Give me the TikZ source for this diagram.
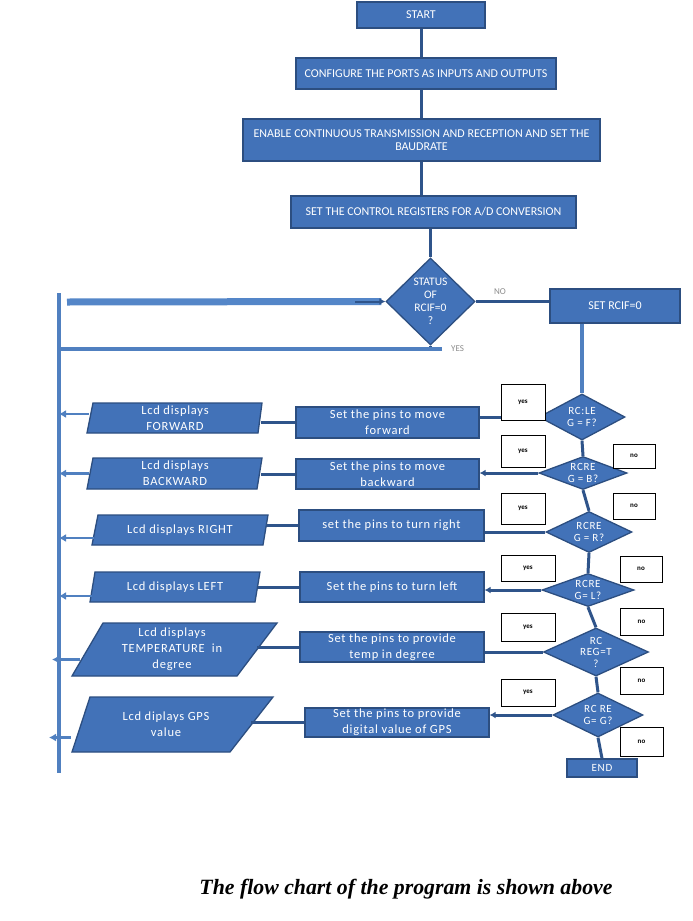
\documentclass[tikz,border=0pt]{standalone}
\usepackage{fontspec}
\setmainfont{Liberation Serif}
\newfontfamily\boxfont{Carlito}
\newfontfamily\spfont[LetterSpace=6]{Carlito}
\usetikzlibrary{shapes.geometric,arrows.meta}
\definecolor{boxfill}{RGB}{66,114,184}
\definecolor{boxline}{RGB}{44,78,128}
\definecolor{linedark}{RGB}{47,84,138}
\definecolor{bandblue}{RGB}{84,134,200}
\definecolor{trunkblue}{RGB}{80,128,192}
\definecolor{labelgray}{RGB}{140,140,140}
\tikzset{
  tbox/.style={rectangle, fill=boxfill, draw=boxline, line width=1.3pt, text=white, inner sep=0pt, align=center,
    font=\boxfont\fontsize{12}{13}\selectfont},
  abox/.style={rectangle, fill=boxfill, draw=boxline, line width=1.3pt, text=white, inner sep=0pt, align=center,
    font=\spfont\fontsize{12.5}{16}\selectfont},
  lcdshape/.style={fill=boxfill, draw=boxline, line width=1.3pt},
  lcdtext/.style={rectangle, text=white, inner sep=0pt, align=center, font=\spfont\fontsize{12.5}{16}\selectfont},
  dec/.style={diamond, fill=boxfill, draw=boxline, line width=1.3pt, text=white, inner sep=0pt, align=center,
    font=\spfont\fontsize{11}{12.5}\selectfont},
  yn/.style={rectangle, fill=white, draw=black, line width=0.9pt, inner sep=0pt,
    font=\boxfont\bfseries\fontsize{7}{8}\selectfont},
  conn/.style={draw=linedark, line width=3pt},
  trunk/.style={draw=trunkblue, line width=4pt},
  lcdarrow/.style={draw=trunkblue, line width=2.5pt, -{Latex[length=7pt,width=8pt]}},
  lbl/.style={text=labelgray, font=\boxfont\fontsize{9}{10}\selectfont, inner sep=0pt}
}
\begin{document}
\begin{tikzpicture}[x=1pt,y=-1pt]
\useasboundingbox[fill=white] (0,0) rectangle (693,921);

% top chain
\node[tbox, minimum width=128, minimum height=26] (start) at (421,15) {START};
\node[tbox, minimum width=260, minimum height=31] (conf) at (426,73.5) {CONFIGURE THE PORTS AS INPUTS AND OUTPUTS};
\node[tbox, minimum width=357, minimum height=42] (enable) at (421.5,140) {ENABLE CONTINUOUS TRANSMISSION AND RECEPTION AND SET THE\\BAUDRATE};
\node[tbox, minimum width=285, minimum height=32] (ctrl) at (433.5,212) {SET THE CONTROL REGISTERS FOR A/D CONVERSION};
\node[dec, aspect=1, minimum width=89, minimum height=87, font=\boxfont\fontsize{11.5}{13}\selectfont] (status) at (430.5,301.5) {STATUS\\OF\\RCIF=0\\?};
\node[tbox, minimum width=130, minimum height=34] (setrcif) at (615,306) {SET RCIF=0};

% decisions
\node[dec, aspect=1.87, minimum width=86, minimum height=46] (d1) at (582,417) {RC:LE\\G = F?};
\node[dec, aspect=2.75, minimum width=88, minimum height=33] (d2) at (583,473) {RCRE\\G = B?};
\node[dec, aspect=2.1, minimum width=86, minimum height=41] (d3) at (589,532) {RCRE\\G = R?};
\node[dec, aspect=2.8, minimum width=92, minimum height=33] (d4) at (588,590) {RCRE\\G= L?};
\node[dec, aspect=2.19, minimum width=105, minimum height=48, font=\spfont\fontsize{11}{11.5}\selectfont] (d5) at (596,652) {RC\\REG=T\\?};
\node[dec, aspect=2.05, minimum width=90, minimum height=44] (d6) at (598,715) {RC RE\\G= G?};
\node[abox, minimum width=70, minimum height=18, font=\spfont\fontsize{11}{12}\selectfont] (end) at (602,768) {END};

% action boxes
\node[abox, minimum width=183, minimum height=31] (afwd) at (387.5,422.5) {Set the pins to move\\forward};
\node[abox, minimum width=183, minimum height=30] (abwd) at (387.5,474) {Set the pins to move\\backward};
\node[abox, minimum width=185, minimum height=31] (aright) at (391.5,525.5) {set the pins to turn right};
\node[abox, minimum width=184, minimum height=30] (aleft) at (392,587) {Set the pins to turn left};
\node[abox, minimum width=184, minimum height=30] (atemp) at (392,647) {Set the pins to provide\\temp in degree};
\node[abox, minimum width=184, minimum height=29] (agps) at (397,722.5) {Set the pins to provide\\digital value of GPS};

% lcd boxes
\filldraw[lcdshape] (93,403) -- (262,403) -- (258,433) -- (87,433) -- cycle;
\node[lcdtext, minimum width=172, minimum height=30] (lfwd) at (175,418) {Lcd displays\\FORWARD};
\filldraw[lcdshape] (93,458) -- (262,458) -- (257,489) -- (87,489) -- cycle;
\node[lcdtext, minimum width=172, minimum height=31] (lbwd) at (175,473.5) {Lcd displays\\BACKWARD};
\filldraw[lcdshape] (98,515) -- (268,515) -- (263,545) -- (92,545) -- cycle;
\node[lcdtext, minimum width=171, minimum height=30] (lright) at (180,530) {Lcd displays RIGHT};
\filldraw[lcdshape] (95,572) -- (260,572) -- (255,602) -- (90,602) -- cycle;
\node[lcdtext, minimum width=165, minimum height=30] (lleft) at (175,587) {Lcd displays LEFT};
\filldraw[lcdshape] (103,623) -- (277,623) -- (237,676) -- (72,676) -- cycle;
\node[lcdtext, minimum width=169, minimum height=53] (ltemp) at (172,649.5) {Lcd displays\\TEMPERATURE~ in\\degree};
\filldraw[lcdshape] (90,697) -- (273,697) -- (230,752) -- (72,752) -- cycle;
\node[lcdtext, minimum width=170, minimum height=55] (lgps) at (166,724.5) {Lcd diplays GPS\\value};

% left trunk
\coordinate (ltop) at (59,293);
\coordinate (lbot) at (59,773);
\coordinate (bandstart) at (67,302);
\coordinate (yesend) at (442,349);
\coordinate (yesleft) at (59,349);

% connectors in top chain
\draw[conn] (start.south) -- (start.south |- conf.north);
\draw[conn] (conf.south -| start.south) -- (start.south |- enable.north);
\draw[conn] (enable.south -| start.south) -- (start.south |- ctrl.north);
\draw[conn] (status.north |- ctrl.south) -- (status.north);
\draw[conn] (status.east) -- (status.east -| setrcif.west);
\draw[trunk, line width=3.5pt] (setrcif.south -| d1.north) -- (d1.north);
\draw[draw=bandblue, line width=7pt] (bandstart) -- ([xshift=-4pt]status.west);
\draw[conn, line width=2pt, -{Latex[length=6pt,width=7pt]}] ([xshift=-30pt]status.west) -- (status.west);
\draw[conn] (status.south) -- (status.south |- yesend);
\draw[draw=trunkblue, line width=3.5pt] (yesend) -- (yesleft);
\draw[trunk] (ltop) -- (lbot);

% decision chain
\draw[conn] (d1.south) -- (d2.north);
\draw[conn] (d2.south) -- (d3.north);
\draw[conn] (d3.south) -- (d4.north);
\draw[conn] (d4.south) -- (d5.north);
\draw[conn] (d5.south) -- (d6.north);
\draw[conn] (d6.south) -- (end.north);

% decision to action
\draw[conn] (d1.west) -- (d1.west -| afwd.east);
\draw[conn, -{Latex[length=6pt,width=7pt]}] (d2.west) -- (d2.west -| abwd.east);
\draw[conn] (d3.west) -- (d3.west -| aright.east);
\draw[conn, -{Latex[length=6pt,width=7pt]}] (d4.west) -- (d4.west -| aleft.east);
\draw[conn] (d5.west) -- (d5.west -| atemp.east);
\draw[conn, -{Latex[length=6pt,width=7pt]}] (d6.west) -- (d6.west -| agps.east);

% action to lcd
\draw[conn] (afwd.west) -- (afwd.west -| lfwd.east);
\draw[conn] (abwd.west) -- (abwd.west -| lbwd.east);
\draw[conn] (aright.west) -- (aright.west -| lright.east);
\draw[conn] (aleft.west) -- (aleft.west -| lleft.east);
\draw[conn] (atemp.west) -- (atemp.west -| ltemp.east);
\draw[conn] (agps.west) -- (agps.west -| lgps.east);

% lcd to trunk
\draw[lcdarrow] ([shift={(0,-4)}]lfwd.west) -- ([shift={(0,-4)}]lfwd.west -| ltop);
\draw[lcdarrow] (lbwd.west) -- (lbwd.west -| ltop);
\draw[lcdarrow] ([shift={(0,8)}]lright.west) -- ([shift={(0,8)}]lright.west -| ltop);
\draw[lcdarrow] ([shift={(0,9)}]lleft.west) -- ([shift={(0,9)}]lleft.west -| ltop);
\draw[lcdarrow] ([shift={(-7,10)}]ltemp.west) -- ([shift={(-7,10)}]ltemp.west -| ltop);
\draw[lcdarrow] ([shift={(-10,13)}]lgps.west) -- ([shift={(-10,13)}]lgps.west -| ltop);

% labels
\node[lbl] (nolbl) at (500,292) {NO};
\node[lbl, anchor=west] (yeslbl) at (451,349) {YES};

% yes / no boxes
\node[yn, minimum width=44, minimum height=36] (yes1) at (523,402) {yes};
\node[yn, minimum width=44, minimum height=32] (yes2) at (523,451) {yes};
\node[yn, minimum width=42, minimum height=24] (no2) at (634,456) {no};
\node[yn, minimum width=44, minimum height=31] (yes3) at (523,508.5) {yes};
\node[yn, minimum width=42, minimum height=26] (no3) at (634,506) {no};
\node[yn, minimum width=54, minimum height=26] (yes4) at (528,568) {yes};
\node[yn, minimum width=42, minimum height=26] (no4) at (641,569) {no};
\node[yn, minimum width=54, minimum height=28] (yes5) at (528,627) {yes};
\node[yn, minimum width=43, minimum height=27] (no5) at (641.5,621.5) {no};
\node[yn, minimum width=43, minimum height=27] (no6) at (641.5,680.5) {no};
\node[yn, minimum width=54, minimum height=27] (yes6) at (528,692.5) {yes};
\node[yn, minimum width=43, minimum height=29] (no7) at (641.5,741.5) {no};

% caption
\node[font=\bfseries\itshape\fontsize{21.8}{24}\selectfont, inner sep=0pt] (caption) at (406,889) {The flow chart of the program is shown above};
\end{tikzpicture}
\end{document}
